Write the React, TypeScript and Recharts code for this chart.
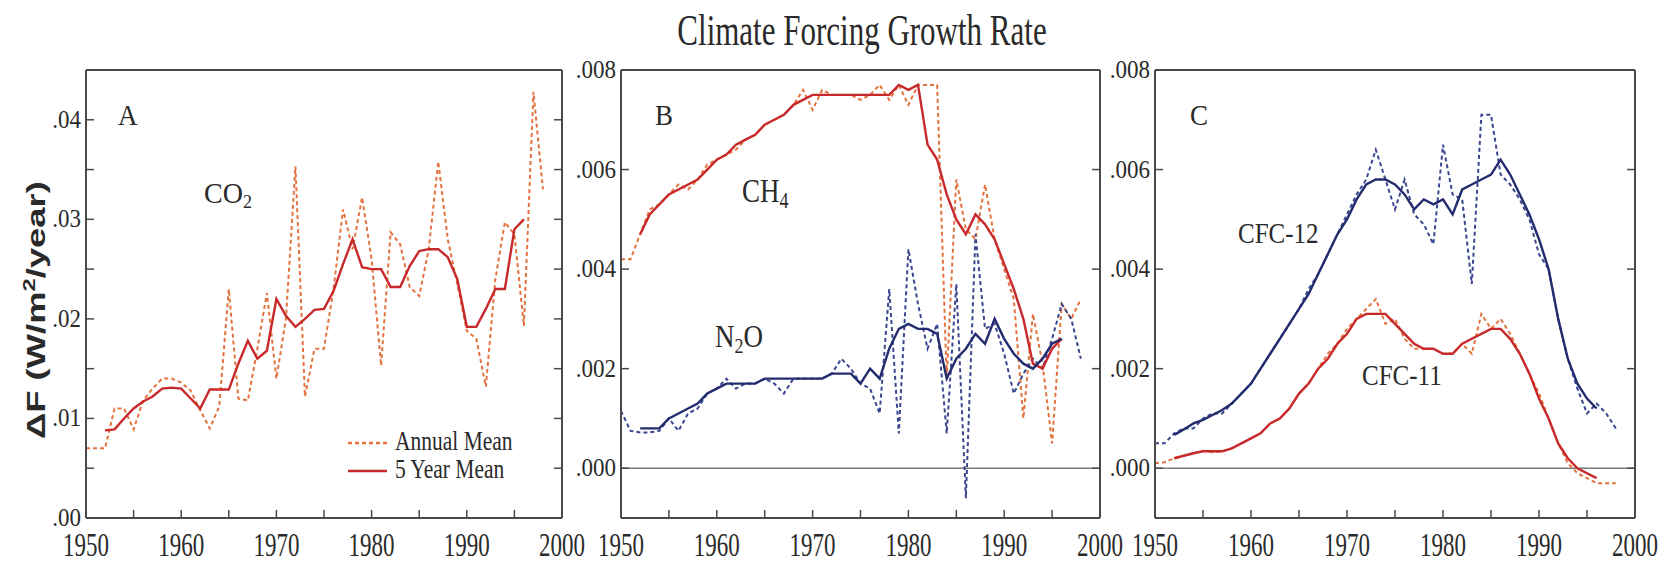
import { Legend, Line, LineChart, ReferenceLine, XAxis, YAxis } from 'recharts';

// years of the annual means and of the 5-year running means
const YEARS = [
  1950, 1951, 1952, 1953, 1954, 1955, 1956, 1957, 1958, 1959,
  1960, 1961, 1962, 1963, 1964, 1965, 1966, 1967, 1968, 1969,
  1970, 1971, 1972, 1973, 1974, 1975, 1976, 1977, 1978, 1979,
  1980, 1981, 1982, 1983, 1984, 1985, 1986, 1987, 1988, 1989,
  1990, 1991, 1992, 1993, 1994, 1995, 1996, 1997, 1998,
];
const MEAN_YEARS = [
  1952, 1953, 1954, 1955, 1956, 1957, 1958, 1959,
  1960, 1961, 1962, 1963, 1964, 1965, 1966, 1967, 1968, 1969,
  1970, 1971, 1972, 1973, 1974, 1975, 1976, 1977, 1978, 1979,
  1980, 1981, 1982, 1983, 1984, 1985, 1986, 1987, 1988, 1989,
  1990, 1991, 1992, 1993, 1994, 1995, 1996,
];

// ---- panel A: CO2 (W/m2/year)
const CO2_ANNUAL = [
  0.007, 0.007, 0.007, 0.011, 0.011, 0.0089, 0.0118, 0.013, 0.014, 0.014,
  0.0136, 0.0128, 0.0108, 0.009, 0.0112, 0.023, 0.012, 0.0118, 0.017, 0.0226,
  0.014, 0.02, 0.0353, 0.0122, 0.017, 0.017, 0.023, 0.031, 0.027, 0.0322,
  0.026, 0.0153, 0.0287, 0.0275, 0.0232, 0.0223, 0.027, 0.0358, 0.028, 0.0235,
  0.0188, 0.018, 0.0132, 0.024, 0.0297, 0.0285, 0.0193, 0.0428, 0.033,
];
const CO2_MEAN = [
  0.0088, 0.0089, 0.01, 0.011, 0.0117, 0.0122, 0.013, 0.0131,
  0.013, 0.012, 0.011, 0.0129, 0.0129, 0.0129, 0.0155, 0.0178, 0.016, 0.0168,
  0.022, 0.0203, 0.0192, 0.02, 0.0209, 0.021, 0.0228, 0.0255, 0.028, 0.0252,
  0.025, 0.025, 0.0232, 0.0232, 0.0253, 0.0268, 0.027, 0.027, 0.0262, 0.024,
  0.0192, 0.0192, 0.021, 0.023, 0.023, 0.029, 0.03,
];

// ---- panel B: CH4 and N2O
const CH4_ANNUAL = [
  0.0042, 0.0042, 0.0047, 0.0052, 0.0053, 0.0055, 0.0057, 0.0056, 0.0058, 0.0061,
  0.0062, 0.0063, 0.0064, 0.0066, 0.0067, 0.0069, 0.007, 0.0071, 0.0073, 0.0076,
  0.0072, 0.0076, 0.0075, 0.0075, 0.0075, 0.0074, 0.0075, 0.0077, 0.0074, 0.0077,
  0.0073, 0.0077, 0.0077, 0.0077, 0.0018, 0.0058, 0.0048, 0.0046, 0.0057, 0.0046,
  0.004, 0.0034, 0.001, 0.0031, 0.0021, 0.0005, 0.0033, 0.003, 0.0034,
];
const CH4_MEAN = [
  0.0047, 0.0051, 0.0053, 0.0055, 0.0056, 0.0057, 0.0058, 0.006,
  0.0062, 0.0063, 0.0065, 0.0066, 0.0067, 0.0069, 0.007, 0.0071, 0.0073, 0.0074,
  0.0075, 0.0075, 0.0075, 0.0075, 0.0075, 0.0075, 0.0075, 0.0075, 0.0075, 0.0077,
  0.0076, 0.0077, 0.0065, 0.0062, 0.0055, 0.005, 0.0047, 0.0051, 0.0049, 0.0046,
  0.0041, 0.0036, 0.003, 0.0021, 0.002, 0.0024, 0.0026,
];
const N2O_ANNUAL = [
  0.00115, 0.00075, 0.00072, 0.00072, 0.00075, 0.001, 0.00075, 0.0011, 0.0012, 0.0015,
  0.0016, 0.0018, 0.0016, 0.0017, 0.0017, 0.0018, 0.0017, 0.0015, 0.0018, 0.0018,
  0.0018, 0.0018, 0.0019, 0.0022, 0.002, 0.0017, 0.0016, 0.0011, 0.0036, 0.0007,
  0.0044, 0.0033, 0.0024, 0.0029, 0.0007, 0.0037, -0.0006, 0.0047, 0.0028, 0.0029,
  0.0023, 0.0015, 0.0019, 0.0022, 0.002, 0.0026, 0.0033, 0.003, 0.0022,
];
const N2O_MEAN = [
  0.0008, 0.0008, 0.0008, 0.001, 0.0011, 0.0012, 0.0013, 0.0015,
  0.0016, 0.0017, 0.0017, 0.0017, 0.0017, 0.0018, 0.0018, 0.0018, 0.0018, 0.0018,
  0.0018, 0.0018, 0.0019, 0.0019, 0.0019, 0.0017, 0.002, 0.0018, 0.0024, 0.0028,
  0.0029, 0.0028, 0.0028, 0.0027, 0.0018, 0.0022, 0.0024, 0.0027, 0.0025, 0.003,
  0.0026, 0.0023, 0.0021, 0.002, 0.0022, 0.0025, 0.0026,
];

// ---- panel C: CFC-12 and CFC-11
const CFC12_ANNUAL = [
  0.0005, 0.0005, 0.0007, 0.0008, 0.0008, 0.001, 0.0011, 0.0011, 0.0013, 0.0015,
  0.0017, 0.002, 0.0023, 0.0026, 0.0029, 0.0032, 0.0036, 0.0039, 0.0043, 0.0047,
  0.0051, 0.0055, 0.0058, 0.0064, 0.0058, 0.0052, 0.0058, 0.0051, 0.0049, 0.0045,
  0.0065, 0.0055, 0.0054, 0.0037, 0.0071, 0.0071, 0.0059, 0.0057, 0.0054, 0.005,
  0.0043, 0.004, 0.003, 0.0022, 0.0016, 0.0011, 0.0013, 0.0011, 0.0008,
];
const CFC12_MEAN = [
  0.00067, 0.00078, 0.0009, 0.00097, 0.00107, 0.00117, 0.0013, 0.0015,
  0.0017, 0.002, 0.0023, 0.0026, 0.0029, 0.0032, 0.0035, 0.0039, 0.0043, 0.0047,
  0.005, 0.0054, 0.0057, 0.0058, 0.0058, 0.0057, 0.0055, 0.0052, 0.0054, 0.0053,
  0.0054, 0.0051, 0.0056, 0.0057, 0.0058, 0.0059, 0.0062, 0.0059, 0.0055, 0.0051,
  0.0046, 0.004, 0.003, 0.0022, 0.0017, 0.0014, 0.0012,
];
const CFC11_ANNUAL = [
  0.0001, 0.00012, 0.0002, 0.00025, 0.0003, 0.00035, 0.00032, 0.00034, 0.0004, 0.0005,
  0.0006, 0.0007, 0.0009, 0.001, 0.0012, 0.0015, 0.0017, 0.002, 0.0023, 0.0025,
  0.0028, 0.003, 0.0032, 0.0034, 0.0029, 0.003, 0.0026, 0.0024, 0.0024, 0.0024,
  0.0023, 0.0023, 0.0025, 0.0023, 0.0031, 0.0028, 0.003, 0.0027, 0.0023, 0.0019,
  0.0015, 0.001, 0.0005, 0.0001, -0.0001, -0.0002, -0.0003, -0.0003, -0.0003,
];
const CFC11_MEAN = [
  0.0002, 0.00025, 0.0003, 0.00034, 0.00034, 0.00034, 0.0004, 0.0005,
  0.0006, 0.0007, 0.0009, 0.001, 0.0012, 0.0015, 0.0017, 0.002, 0.0022, 0.0025,
  0.0027, 0.003, 0.0031, 0.0031, 0.0031, 0.0029, 0.0027, 0.0025, 0.0024, 0.0024,
  0.0023, 0.0023, 0.0025, 0.0026, 0.0027, 0.0028, 0.0028, 0.0026, 0.0023, 0.0019,
  0.0014, 0.001, 0.0005, 0.0002, 0, -0.0001, -0.0002,
];

const X_TICKS = [1950, 1955, 1960, 1965, 1970, 1975, 1980, 1985, 1990, 1995, 2000];
const A_TICKS = [0, 0.005, 0.01, 0.015, 0.02, 0.025, 0.03, 0.035, 0.04];
const BC_TICKS = [0, 0.002, 0.004, 0.006, 0.008];

const SERIF = '"Liberation Serif", "Times New Roman", serif';
const SANS = '"Liberation Sans", Arial, sans-serif';
const INK = '#2a2a2a';
const FRAME = '#4a4a4a';
const RED = '#c8292a';
const ORANGE = '#e2733f';
const NAVY = '#222c6e';
const NAVY_DASH = '#3a4690';
const DASH = '4 3';

/** one row per year; the 5-year mean is missing at both ends */
function buildRows(series: Record<string, [number[], number[]]>) {
  return YEARS.map((year) => {
    const row: Record<string, number | undefined> = { year };
    for (const [name, [annual, mean]] of Object.entries(series)) {
      row[`${name}Annual`] = annual[YEARS.indexOf(year)];
      const m = MEAN_YEARS.indexOf(year);
      row[`${name}Mean`] = m >= 0 ? mean[m] : undefined;
    }
    return row;
  });
}

const DATA_A = buildRows({ co2: [CO2_ANNUAL, CO2_MEAN] });
const DATA_B = buildRows({ ch4: [CH4_ANNUAL, CH4_MEAN], n2o: [N2O_ANNUAL, N2O_MEAN] });
const DATA_C = buildRows({ cfc12: [CFC12_ANNUAL, CFC12_MEAN], cfc11: [CFC11_ANNUAL, CFC11_MEAN] });

// the scanned figure uses tall, narrow type: stretch text vertically
function Txt({
  x, y, size, sy = 1, anchor = 'start', family = SERIF, weight, rotate, children,
}: {
  x: number; y: number; size: number; sy?: number; anchor?: 'start' | 'middle' | 'end';
  family?: string; weight?: number; rotate?: number; children: React.ReactNode;
}) {
  const t = `translate(${x} ${y}) scale(1 ${sy})${rotate ? ` rotate(${rotate})` : ''}`;
  return (
    <text transform={t} fontSize={size} fontFamily={family} fontWeight={weight} textAnchor={anchor} fill={INK}>
      {children}
    </text>
  );
}

const TICK_LEN = 8;

function BottomTick({ x, y, payload }: any) {
  const v = payload.value as number;
  return (
    <g>
      <line x1={x} x2={x} y1={y} y2={y - TICK_LEN} stroke={FRAME} strokeWidth={1.5} />
      {v % 10 === 0 ? (
        <Txt x={x} y={y + 38} size={23} sy={1.5} anchor="middle">{v}</Txt>
      ) : null}
    </g>
  );
}

function TopTick({ x, y }: any) {
  return <line x1={x} x2={x} y1={y} y2={y + TICK_LEN} stroke={FRAME} strokeWidth={1.5} />;
}

function RightTick({ x, y }: any) {
  return <line x1={x} x2={x - TICK_LEN} y1={y} y2={y} stroke={FRAME} strokeWidth={1.5} />;
}

function LeftTick({ x, y, payload, digits, labelStep }: any) {
  const v = payload.value as number;
  const major = Math.abs(v / labelStep - Math.round(v / labelStep)) < 1e-6;
  return (
    <g>
      <line x1={x} x2={x + TICK_LEN} y1={y} y2={y} stroke={FRAME} strokeWidth={1.5} />
      {major ? (
        <Txt x={x - 5} y={y + 8} size={23} sy={1.1} anchor="end">
          {v.toFixed(digits).replace(/^0/, '')}
        </Txt>
      ) : null}
    </g>
  );
}

function LegendBox({ payload }: any) {
  // annual mean (dashed) is listed first, as in the original figure
  const items = [...(payload ?? [])].sort(
    (a: any, b: any) => Number(String(b.dataKey).endsWith('Annual')) - Number(String(a.dataKey).endsWith('Annual')),
  );
  return (
    <svg width={190} height={64} style={{ overflow: 'visible' }}>
      {items.map((e: any, i: number) => (
        <g key={e.value}>
          <line
            x1={0}
            x2={39}
            y1={14 + i * 28}
            y2={14 + i * 28}
            stroke={e.color}
            strokeWidth={2.5}
            strokeDasharray={String(e.dataKey).endsWith('Annual') ? DASH : undefined}
          />
          <Txt x={47} y={21 + i * 28} size={21.5} sy={1.27}>{e.value}</Txt>
        </g>
      ))}
    </svg>
  );
}

type Series = { key: string; name: string; color: string; dashed?: boolean };

function Panel({
  left, width, margin, yWidth, yDomain, yTicks, digits, labelStep, data, series, zeroLine, legend,
}: {
  left: number; width: number;
  margin: { top: number; right: number; bottom: number; left: number };
  yWidth: number; yDomain: [number, number]; yTicks: number[]; digits: number; labelStep: number;
  data: Record<string, number | undefined>[]; series: Series[]; zeroLine?: boolean; legend?: boolean;
}) {
  return (
    <div style={{ position: 'absolute', left, top: 0 }}>
      <LineChart width={width} height={563} data={data} margin={margin}>
        <XAxis
          dataKey="year"
          type="number"
          domain={[1950, 2000]}
          allowDataOverflow
          ticks={X_TICKS}
          interval={0}
          height={45}
          tickSize={0}
          tickMargin={0}
          tickLine={false}
          axisLine={{ stroke: FRAME, strokeWidth: 2 }}
          tick={BottomTick}
        />
        <XAxis
          xAxisId="top"
          orientation="top"
          type="number"
          domain={[1950, 2000]}
          allowDataOverflow
          ticks={X_TICKS}
          interval={0}
          height={1}
          tickSize={0}
          tickMargin={0}
          tickLine={false}
          axisLine={{ stroke: FRAME, strokeWidth: 2 }}
          tick={TopTick}
        />
        <YAxis
          type="number"
          domain={yDomain}
          allowDataOverflow
          ticks={yTicks}
          interval={0}
          width={yWidth}
          tickSize={0}
          tickMargin={0}
          tickLine={false}
          axisLine={{ stroke: FRAME, strokeWidth: 2 }}
          tick={(p: any) => <LeftTick {...p} digits={digits} labelStep={labelStep} />}
        />
        <YAxis
          yAxisId="right"
          orientation="right"
          type="number"
          domain={yDomain}
          allowDataOverflow
          ticks={yTicks}
          interval={0}
          width={1}
          tickSize={0}
          tickMargin={0}
          tickLine={false}
          axisLine={{ stroke: FRAME, strokeWidth: 2 }}
          tick={RightTick}
        />
        {zeroLine ? <ReferenceLine y={0} stroke="#7a7a7a" strokeWidth={1.5} /> : null}
        {series.map((s) => (
          <Line
            key={s.key}
            dataKey={s.key}
            name={s.name}
            type="linear"
            stroke={s.color}
            strokeWidth={s.dashed ? 2 : 2.4}
            strokeDasharray={s.dashed ? DASH : undefined}
            dot={false}
            activeDot={false}
            isAnimationActive={false}
          />
        ))}
        {legend ? (
          <Legend
            layout="horizontal"
            verticalAlign="middle"
            align="center"
            content={LegendBox}
            wrapperStyle={{ left: 348, top: 429, width: 190, height: 64 }}
          />
        ) : null}
      </LineChart>
    </div>
  );
}

export default function App() {
  return (
    <div style={{ position: 'relative', width: 1667, height: 563, background: '#fff', overflow: 'hidden' }}>
      <style>{'body{margin:0}'}</style>
      <Panel
        left={0}
        width={600}
        margin={{ top: 69, right: 37, bottom: 0, left: 36 }}
        yWidth={50}
        yDomain={[0, 0.045]}
        yTicks={A_TICKS}
        digits={2}
        labelStep={0.01}
        data={DATA_A}
        legend
        series={[
          { key: 'co2Annual', name: 'Annual Mean', color: ORANGE, dashed: true },
          { key: 'co2Mean', name: '5 Year Mean', color: RED },
        ]}
      />
      <Panel
        left={560}
        width={580}
        margin={{ top: 69, right: 39, bottom: 0, left: 11 }}
        yWidth={50}
        yDomain={[-0.001, 0.008]}
        yTicks={BC_TICKS}
        digits={3}
        labelStep={0.002}
        data={DATA_B}
        zeroLine
        series={[
          { key: 'ch4Annual', name: 'CH4 annual', color: ORANGE, dashed: true },
          { key: 'n2oAnnual', name: 'N2O annual', color: NAVY_DASH, dashed: true },
          { key: 'ch4Mean', name: 'CH4 5-year', color: RED },
          { key: 'n2oMean', name: 'N2O 5-year', color: NAVY },
        ]}
      />
      <Panel
        left={1110}
        width={557}
        margin={{ top: 69, right: 31, bottom: 0, left: 0 }}
        yWidth={45}
        yDomain={[-0.001, 0.008]}
        yTicks={BC_TICKS}
        digits={3}
        labelStep={0.002}
        data={DATA_C}
        zeroLine
        series={[
          { key: 'cfc12Annual', name: 'CFC-12 annual', color: NAVY_DASH, dashed: true },
          { key: 'cfc11Annual', name: 'CFC-11 annual', color: ORANGE, dashed: true },
          { key: 'cfc12Mean', name: 'CFC-12 5-year', color: NAVY },
          { key: 'cfc11Mean', name: 'CFC-11 5-year', color: RED },
        ]}
      />
      <svg
        width={1667}
        height={563}
        style={{ position: 'absolute', left: 0, top: 0, pointerEvents: 'none' }}
      >
        <Txt x={862} y={45} size={31} sy={1.42} anchor="middle">Climate Forcing Growth Rate</Txt>
        <Txt x={45} y={310} size={26} sy={1.4} rotate={-90} family={SANS} weight={700} anchor="middle">
          ΔF (W/m<tspan fontSize={17} dy={-10}>2</tspan><tspan dy={10}>/year)</tspan>
        </Txt>
        <Txt x={118} y={125} size={27} sy={1.1}>A</Txt>
        <Txt x={655} y={125} size={27} sy={1.1}>B</Txt>
        <Txt x={1190} y={125} size={27} sy={1.1}>C</Txt>
        <Txt x={204} y={203} size={28} sy={1.05}>
          CO<tspan fontSize={18} dy={5}>2</tspan>
        </Txt>
        <Txt x={742} y={202} size={27} sy={1.25}>
          CH<tspan fontSize={18} dy={5}>4</tspan>
        </Txt>
        <Txt x={715} y={347} size={27} sy={1.2}>
          N<tspan fontSize={18} dy={5}>2</tspan><tspan dy={-5}>O</tspan>
        </Txt>
        <Txt x={1238} y={243} size={25} sy={1.15}>CFC-12</Txt>
        <Txt x={1362} y={385} size={25} sy={1.15}>CFC-11</Txt>
      </svg>
    </div>
  );
}
